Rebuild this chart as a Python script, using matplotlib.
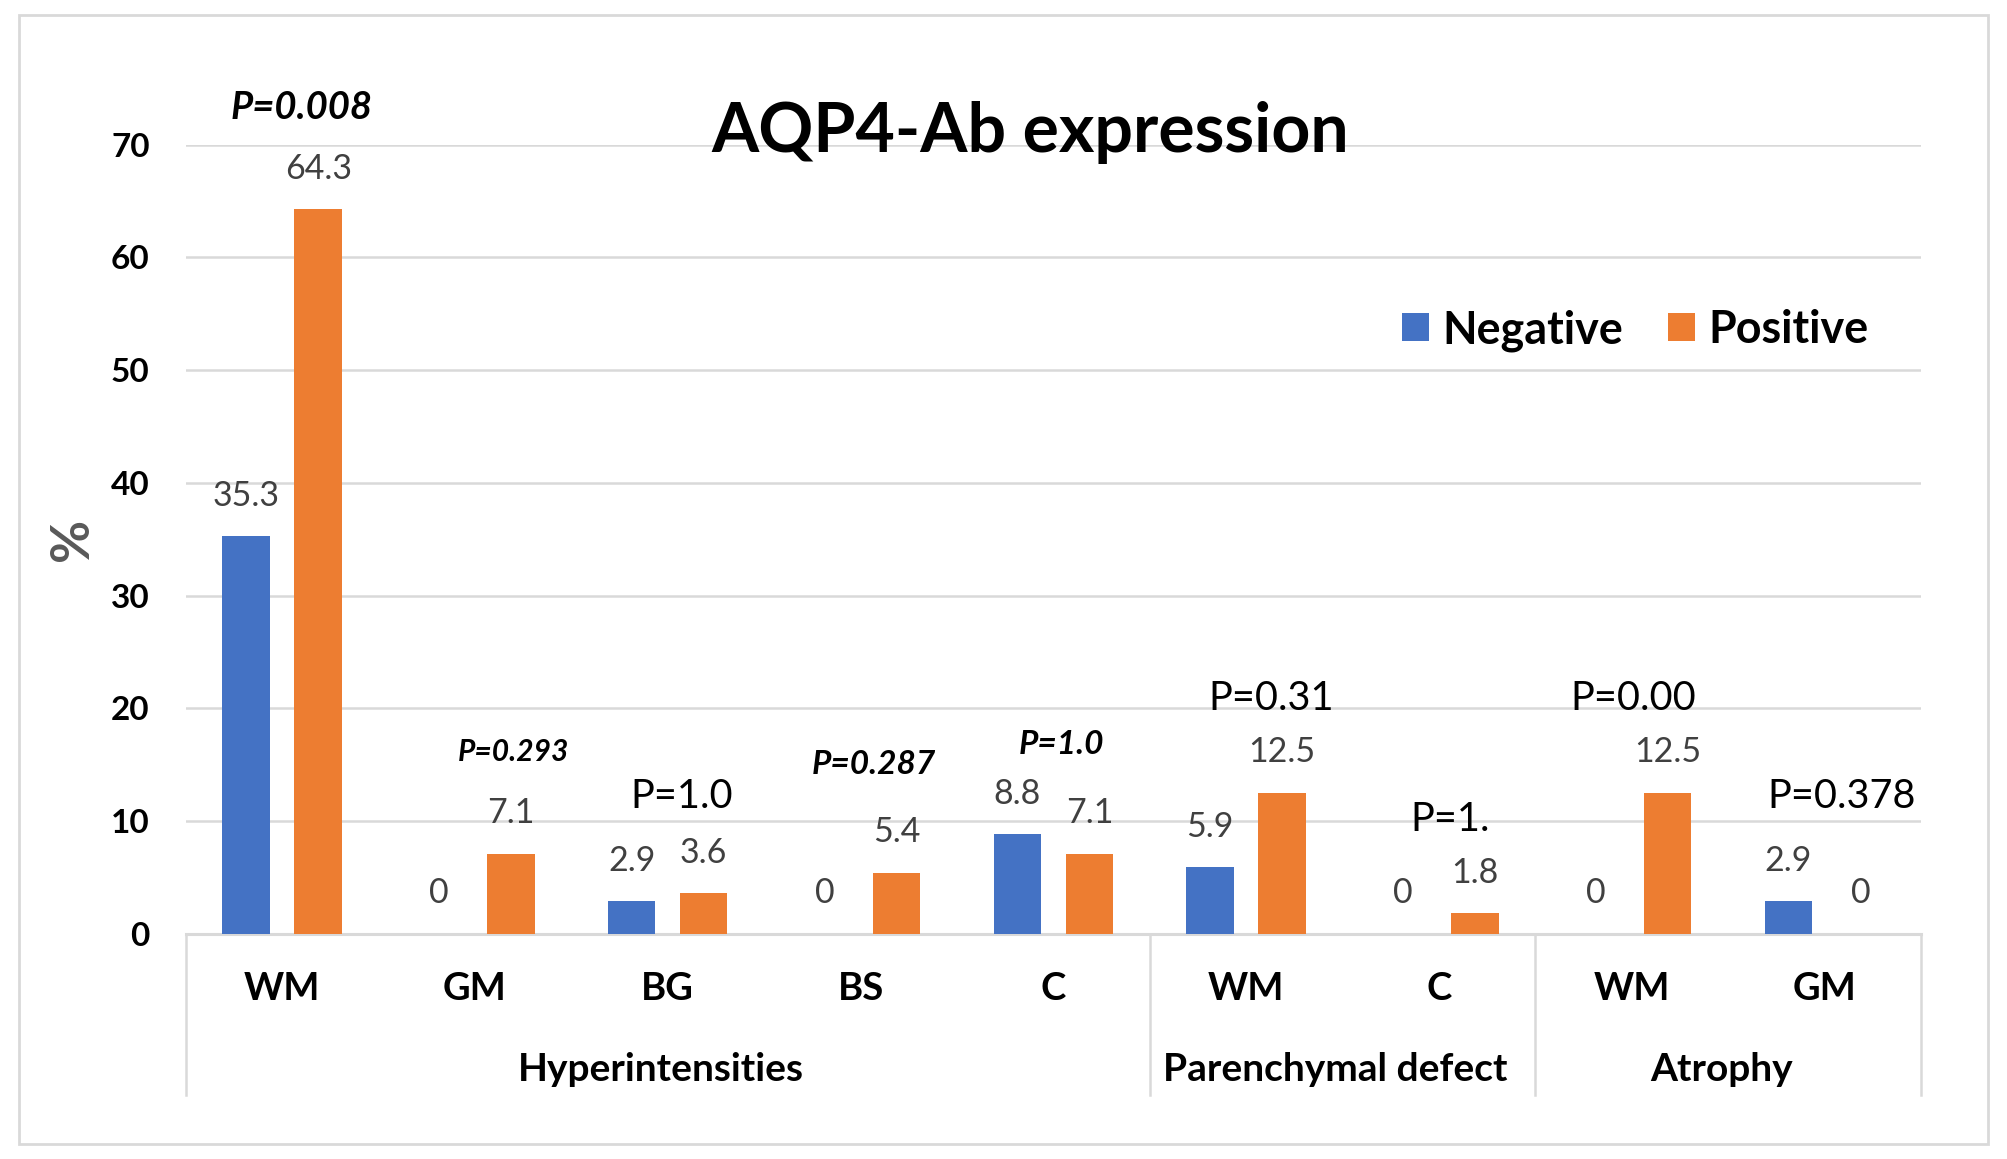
import matplotlib
matplotlib.use('Agg')
import matplotlib.pyplot as plt
import matplotlib.patches as mpatches
import numpy as np

# dados
categorias = ['WM', 'GM', 'BG', 'BS', 'C', 'WM', 'C', 'WM', 'GM']
negativo = [35.3, 0, 2.9, 0, 8.8, 5.9, 0, 0, 2.9]
positivo = [64.3, 7.1, 3.6, 5.4, 7.1, 12.5, 1.8, 12.5, 0]
grupos = ['Hyperintensities', 'Parenchymal defect', 'Atrophy']
grupo_ini = [0, 5, 7]
grupo_fim = [4, 6, 8]

# anotações de p-valor: texto, x (índice da categoria), y (%), negrito/itálico
p_textos = ['P=0.008', 'P=0.293', 'P=1.0', 'P=0.287', 'P=1.0',
            'P=0.31', 'P=1.', 'P=0.00', 'P=0.378']
p_x = [0.10, 1.20, 2.07, 3.07, 4.04, 5.13, 6.06, 7.01, 8.09]
p_y = [73.3, 16.1, 12.2, 15.0, 16.8, 20.9, 10.1, 20.9, 12.2]
p_enfase = [True, True, False, True, True, False, False, False, False]
p_tam = [27.5, 21.5, 28.5, 24, 24, 28.5, 28.5, 28.5, 28.5]

cor_neg = '#4472C4'
cor_pos = '#ED7D31'
cor_grade = '#D9D9D9'
cor_rotulo = '#404040'

plt.rcParams['font.family'] = ['Lato', 'DejaVu Sans']

fig = plt.figure(figsize=(20.08, 11.59), dpi=100)
ax = fig.add_axes([0.0925, 0.1945, 0.8641, 0.6806])

x = np.arange(len(categorias))
larg = 0.246
desl = 0.187
b1 = ax.bar(x - desl, negativo, larg, color=cor_neg, label='Negative', zorder=3)
b2 = ax.bar(x + desl, positivo, larg, color=cor_pos, label='Positive', zorder=3)

for barras, vals in [(b1, negativo), (b2, positivo)]:
    for b, v in zip(barras, vals):
        txt = '0' if v == 0 else f'{v:.1f}'
        ax.annotate(txt, (b.get_x() + b.get_width() / 2, v),
                    xytext=(0, 29), textcoords='offset points',
                    ha='center', va='center', fontsize=24.5, color=cor_rotulo)

for t, px, py, enf, tam in zip(p_textos, p_x, p_y, p_enfase, p_tam):
    if enf:
        ax.text(px, py, t, ha='center', va='center', fontsize=tam,
                fontweight='bold', fontstyle='italic', color='black')
    else:
        ax.text(px, py, t, ha='center', va='center', fontsize=tam, color='black')

ax.set_xlim(-0.5, len(categorias) - 0.5)
ax.set_ylim(0, 70)
ax.set_yticks(range(0, 71, 10))
ax.tick_params(axis='y', length=0, pad=26, labelsize=24)
for lab in ax.get_yticklabels():
    lab.set_fontweight('bold')
ax.yaxis.grid(True, color=cor_grade, linewidth=1.8, zorder=0)
ax.set_axisbelow(True)
for s in ['top', 'right', 'left']:
    ax.spines[s].set_visible(False)
ax.spines['bottom'].set_color(cor_grade)
ax.spines['bottom'].set_linewidth(2.2)

# eixo de categorias em dois níveis
ax.set_xticks([])
for i, c in enumerate(categorias):
    ax.text(i, -0.0698, c, transform=ax.get_xaxis_transform(),
            ha='center', va='center', fontsize=27.5, fontweight='bold')
for g, i0, i1 in zip(grupos, grupo_ini, grupo_fim):
    ax.text((i0 + i1) / 2 - 0.035, -0.172, g, transform=ax.get_xaxis_transform(),
            ha='center', va='center', fontsize=28, fontweight='bold')
for sep in [-0.5] + [f + 0.5 for f in grupo_fim]:
    ax.plot([sep, sep], [0, -0.2045], transform=ax.get_xaxis_transform(),
            color=cor_grade, linewidth=1.8, clip_on=False)

ax.text(-0.065, 0.5, '%', transform=ax.transAxes, rotation=90,
        ha='center', va='center', fontsize=38, fontweight='bold', color='#595959')

fig.text(0.513, 0.886, 'AQP4-Ab expression', ha='center', va='center',
         fontsize=49, fontweight='bold')

fig.legend(handles=[b1, b2], loc='center left', bbox_to_anchor=(0.687, 0.715),
           ncol=2, frameon=False, prop={'size': 32.3, 'weight': 'bold'},
           handlelength=0.6, handleheight=0.6, handletextpad=0.3,
           columnspacing=1.0, borderpad=0)

# moldura externa
fig.add_artist(mpatches.Rectangle((0.0096, 0.0133), 0.9802, 0.9734,
                                  transform=fig.transFigure, fill=False,
                                  edgecolor=cor_grade, linewidth=2))

fig.savefig('out.png', dpi=100, facecolor='white')
